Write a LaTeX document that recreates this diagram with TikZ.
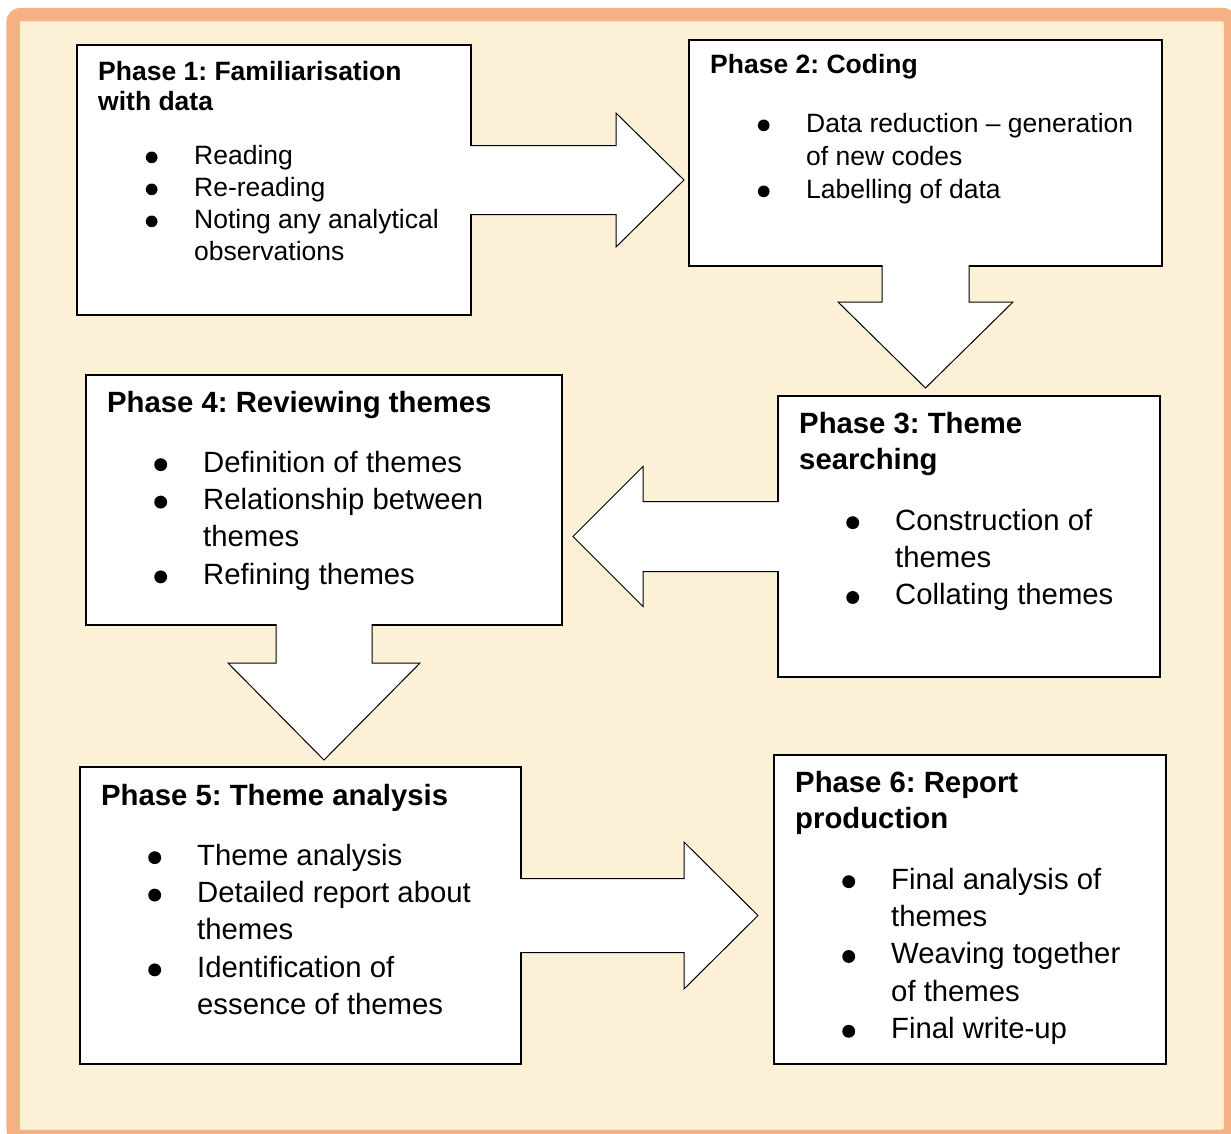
\documentclass[tikz,border=0pt]{standalone}
\usepackage{fontspec}
\setmainfont{Liberation Sans}
\usetikzlibrary{calc, positioning}
\frenchspacing

\definecolor{parchment}{RGB}{252,240,214}
\definecolor{framepeach}{RGB}{244,177,131}

\newcommand{\smalltxt}{\fontsize{26.5pt}{32pt}\selectfont}
\newcommand{\smalltitle}{\fontsize{26.5pt}{30pt}\selectfont\bfseries}
\newcommand{\bigtxt}{\fontsize{29.3pt}{37.4pt}\selectfont}
\newcommand{\bigtitle}{\fontsize{29.3pt}{36.5pt}\selectfont\bfseries}
\newcommand{\phbullet}{\makebox[96pt][l]{\hspace*{\dimexpr 53.5pt-0.22em\relax}\tikz[baseline=0pt]\fill[black] (0pt,0.25em) circle (0.22em);}}

\begin{document}
\begin{tikzpicture}[x=1pt, y=-1pt, line join=miter]
	
	%======================
	% PARAMETERS
	%======================
	\def\tx{21}          % title indent from the left edge of a box
	
	%======================
	% STYLES
	%======================
	\tikzset{
		phasebox/.style={draw=black, line width=1.1pt, fill=white, anchor=north west, inner sep=0pt, outer sep=0pt},
		phasetext/.style={anchor=base west, inner sep=0pt},
		blockarrow/.style={draw=black, line width=1pt, fill=white},
		frameline/.style={draw=framepeach, line width=13.5pt, rounded corners=8pt}
	}
	
	%======================
	% CANVAS
	%======================
	\useasboundingbox (0,0) rectangle (1231,1133);
	\clip (0,0) rectangle (1231,1133);
	\fill[white] (0,0) rectangle (1231,1133);
	\fill[parchment] (13,14.5) rectangle (1231,1133);
	\draw[frameline] (13,14.5) rectangle (1230.5,1136.5);
	
	%======================
	% BOXES
	%======================
	\node[phasebox, minimum width=394pt, minimum height=270pt] (p1) at (77,45) {};
	\node[phasebox, minimum width=473pt, minimum height=226pt] (p2) at (689,40) {};
	\node[phasebox, minimum width=382pt, minimum height=281pt] (p3) at (778,396) {};
	\node[phasebox, minimum width=476pt, minimum height=250pt] (p4) at (86,375) {};
	\node[phasebox, minimum width=441pt, minimum height=297pt] (p5) at (80,767) {};
	\node[phasebox, minimum width=392pt, minimum height=309pt] (p6) at (774,755) {};
	
	%======================
	% BLOCK ARROWS
	%======================
	% 1 -> 2 (right)
	\coordinate (a1b) at (p1.east);
	\coordinate (a1t) at ($(p2.west |- p1.east)+(-5,0)$);
	\filldraw[blockarrow] ($(a1b)+(-0.8,-34.5)$) -- ($(a1t)+(-68,-34.5)$) -- ($(a1t)+(-68,-67)$) -- (a1t)
	-- ($(a1t)+(-68,67)$) -- ($(a1t)+(-68,34.5)$) -- ($(a1b)+(-0.8,34.5)$);
	
	% 2 -> 3 (down)
	\coordinate (a2b) at (p2.south);
	\coordinate (a2t) at ($(p2.south |- p3.north)+(0,-8)$);
	\filldraw[blockarrow] ($(a2b)+(-43.5,-0.8)$) -- ($(a2t)+(-43.5,-86)$) -- ($(a2t)+(-87.5,-86)$) -- (a2t)
	-- ($(a2t)+(87.5,-86)$) -- ($(a2t)+(43.5,-86)$) -- ($(a2b)+(43.5,-0.8)$);
	
	% 3 -> 4 (left)
	\coordinate (a3b) at (p3.west);
	\coordinate (a3t) at ($(p4.east |- p3.west)+(11,0)$);
	\filldraw[blockarrow] ($(a3b)+(0.8,-35)$) -- ($(a3t)+(70,-35)$) -- ($(a3t)+(70,-70)$) -- (a3t)
	-- ($(a3t)+(70,70)$) -- ($(a3t)+(70,35)$) -- ($(a3b)+(0.8,35)$);
	
	% 4 -> 5 (down)
	\coordinate (a4b) at (p4.south);
	\coordinate (a4t) at ($(p4.south |- p5.north)+(0,-7)$);
	\filldraw[blockarrow] ($(a4b)+(-48,-0.8)$) -- ($(a4t)+(-48,-97)$) -- ($(a4t)+(-96,-97)$) -- (a4t)
	-- ($(a4t)+(96,-97)$) -- ($(a4t)+(48,-97)$) -- ($(a4b)+(48,-0.8)$);
	
	% 5 -> 6 (right)
	\coordinate (a5b) at (p5.east);
	\coordinate (a5t) at ($(p6.west |- p5.east)+(-16,0)$);
	\filldraw[blockarrow] ($(a5b)+(-0.8,-37)$) -- ($(a5t)+(-74,-37)$) -- ($(a5t)+(-74,-73.5)$) -- (a5t)
	-- ($(a5t)+(-74,73.5)$) -- ($(a5t)+(-74,37)$) -- ($(a5b)+(-0.8,37)$);
	
	%======================
	% TEXTS
	%======================
	% Phase 1
	\node[phasetext, font=\smalltitle] (p1head) at ($(p1.north west)+(\tx,35)$)
	{\begin{tabular}[t]{@{}l@{}}Phase 1: Familiarisation\\with data\end{tabular}};
	\node[phasetext, font=\smalltxt] (p1list) at ($(p1.north west)+(\tx,119)$)
	{\begin{tabular}[t]{@{}l@{}l@{}}
			\phbullet & Reading\\
			\phbullet & Re-reading\\
			\phbullet & Noting any analytical\\
			& observations
	\end{tabular}};
	
	% Phase 2
	\node[phasetext, font=\smalltitle] (p2head) at ($(p2.north west)+(\tx,33)$)
	{Phase 2: Coding};
	\node[phasetext, font=\smalltxt] (p2list) at ($(p2.north west)+(\tx,92)$)
	{\begin{tabular}[t]{@{}l@{}l@{}}
			\phbullet & Data reduction – generation\\[1pt]
			& of new codes\\[1pt]
			\phbullet & Labelling of data
	\end{tabular}};
	
	% Phase 3
	\node[phasetext, font=\bigtitle] (p3head) at ($(p3.north west)+(\tx,37)$)
	{\begin{tabular}[t]{@{}l@{}}Phase 3: Theme\\searching\end{tabular}};
	\node[phasetext, font=\bigtxt] (p3list) at ($(p3.north west)+(\tx,134)$)
	{\begin{tabular}[t]{@{}l@{}l@{}}
			\phbullet & Construction of\\
			& themes\\
			\phbullet & Collating themes
	\end{tabular}};
	
	% Phase 4
	\node[phasetext, font=\bigtitle] (p4head) at ($(p4.north west)+(\tx,37)$)
	{Phase 4: Reviewing themes};
	\node[phasetext, font=\bigtxt] (p4list) at ($(p4.north west)+(\tx,97)$)
	{\begin{tabular}[t]{@{}l@{}l@{}}
			\phbullet & Definition of themes\\
			\phbullet & Relationship between\\
			& themes\\
			\phbullet & Refining themes
	\end{tabular}};
	
	% Phase 5
	\node[phasetext, font=\bigtitle] (p5head) at ($(p5.north west)+(\tx,38)$)
	{Phase 5: Theme analysis};
	\node[phasetext, font=\bigtxt] (p5list) at ($(p5.north west)+(\tx,98)$)
	{\begin{tabular}[t]{@{}l@{}l@{}}
			\phbullet & Theme analysis\\
			\phbullet & Detailed report about\\
			& themes\\
			\phbullet & Identification of\\
			& essence of themes
	\end{tabular}};
	
	% Phase 6
	\node[phasetext, font=\bigtitle] (p6head) at ($(p6.north west)+(\tx,37)$)
	{\begin{tabular}[t]{@{}l@{}}Phase 6: Report\\production\end{tabular}};
	\node[phasetext, font=\bigtxt] (p6list) at ($(p6.north west)+(\tx,134)$)
	{\begin{tabular}[t]{@{}l@{}l@{}}
			\phbullet & Final analysis of\\
			& themes\\
			\phbullet & Weaving together\\
			& of themes\\
			\phbullet & Final write-up
	\end{tabular}};
	
\end{tikzpicture}
\end{document}
